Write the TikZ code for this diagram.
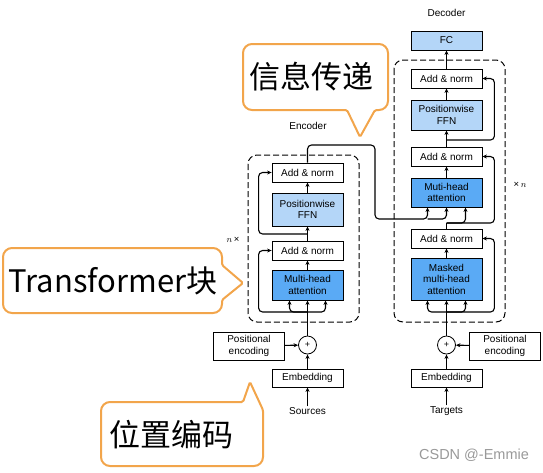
\documentclass[tikz,border=0pt]{standalone}
\usepackage{fontspec}
\setmainfont{Liberation Sans}
\newfontfamily\cjkfont{Noto Sans CJK SC}
\usetikzlibrary{arrows.meta}
\definecolor{dblue}{RGB}{90,170,245}
\definecolor{lblue}{RGB}{180,214,248}
\definecolor{orng}{RGB}{242,165,75}
\begin{document}
\begin{tikzpicture}[x=1pt,y=-1pt,
  txt/.style={font=\fontsize{10}{11.5}\selectfont, inner sep=1pt},
  blk/.style={draw, line width=0.8pt, minimum width=71pt, minimum height=19pt, align=center, inner sep=0pt, font=\fontsize{10}{11.5}\selectfont},
  wblk/.style={blk, fill=white},
  lblk/.style={blk, fill=lblue},
  dblk/.style={blk, fill=dblue},
  arr/.style={line width=1.1pt, -{Stealth[length=4.5pt,width=4pt]}},
  ln/.style={line width=1.1pt},
  dbox/.style={line width=1pt, dash pattern=on 6pt off 3pt, rounded corners=9pt},
  callout/.style={draw=orng, line width=2pt, fill=white},
  ctext/.style={font=\cjkfont\fontsize{31}{33}\selectfont, inner sep=0pt},
  mult/.style={font=\fontsize{9.5}{10}\selectfont, inner sep=0pt}
]
\useasboundingbox (0,0) rectangle (543,472);

% dashed boxes
\draw[dbox] (248,155) rectangle (359,322);
\draw[dbox] (394,60) rectangle (505,322);

% encoder
\node[txt] (enclbl) at (308,126) {Encoder};
\node[wblk] (an2e) at (307.5,172.5) {Add \& norm};
\node[lblk, minimum height=33pt] (ffne) at (307.5,209.5) {Positionwise\\FFN};
\node[wblk] (an1e) at (307.5,250.5) {Add \& norm};
\node[dblk, minimum height=30pt] (mhae) at (307.5,285) {Multi-head\\attention};
\node[draw, circle, line width=0.8pt, minimum size=18pt, inner sep=0pt, font=\fontsize{9}{9}\selectfont] (pluse) at (307.5,345) {+};
\node[wblk, minimum height=28pt] (pose) at (249,346) {Positional\\encoding};
\node[wblk, minimum height=18pt] (embe) at (307.5,378) {Embedding};
\node[txt] (src) at (307.5,411) {Sources};
\node[mult] (nx) at (233,240) {$n$\,×};

% decoder
\node[txt] (declbl) at (446.5,13) {Decoder};
\node[lblk] (fc) at (446.5,40.5) {FC};
\node[wblk] (an3d) at (446.5,78.5) {Add \& norm};
\node[lblk, minimum height=30pt] (ffnd) at (446.5,115) {Positionwise\\FFN};
\node[wblk] (an2d) at (446.5,156.5) {Add \& norm};
\node[dblk, minimum height=29pt] (mhad) at (446.5,192.5) {Muti-head\\attention};
\node[wblk] (an1d) at (446.5,238.5) {Add \& norm};
\node[dblk, minimum height=42pt] (mmhad) at (446.5,279) {Masked\\multi-head\\attention};
\node[draw, circle, line width=0.8pt, minimum size=18pt, inner sep=0pt, font=\fontsize{9}{9}\selectfont] (plusd) at (446.5,345) {+};
\node[wblk, minimum height=28pt] (posd) at (505,346) {Positional\\encoding};
\node[wblk, minimum height=18pt] (embd) at (446.5,378) {Embedding};
\node[txt] (tgt) at (446.5,411) {Targets};
\node[mult] (xn) at (520,185) {×\,$n$};

% encoder connectors
\draw[arr] (src) -- (embe);
\draw[arr] (embe) -- (pluse);
\draw[arr] (pose) -- (pluse);
\coordinate (ebr) at (307.5,312);
\draw[arr] (pluse) -- (mhae);
\draw[arr, rounded corners=4pt] (ebr) -| ([xshift=-18pt]mhae.south);
\draw[arr, rounded corners=4pt] (ebr) -| ([xshift=18pt]mhae.south);
\draw[arr, rounded corners=4pt] (ebr) -| ([xshift=-13pt]an1e.west) -- (an1e.west);
\draw[arr] (mhae) -- (an1e);
\draw[arr] (an1e) -- (ffne);
\coordinate (ebr2) at (307.5,234);
\draw[arr, rounded corners=4pt] (ebr2) -| ([xshift=-13pt]an2e.west) -- (an2e.west);
\draw[arr] (ffne) -- (an2e);
\coordinate (c1) at (375,145);
\coordinate (c2) at (446.5,219);
\draw[arr, rounded corners=4pt] (an2e.north) |- (c1) |- ([xshift=-19pt]c2) -- ([xshift=-19pt]mhad.south);
\draw[arr, rounded corners=4pt] ([xshift=-19pt]c2) -- (c2) -- (mhad.south);

% decoder connectors
\draw[arr] (tgt) -- (embd);
\draw[arr] (embd) -- (plusd);
\draw[arr] (posd) -- (plusd);
\coordinate (dbr) at (446.5,312);
\draw[arr] (plusd) -- (mmhad);
\draw[arr, rounded corners=4pt] (dbr) -| ([xshift=-19pt]mmhad.south);
\draw[arr, rounded corners=4pt] (dbr) -| ([xshift=19pt]mmhad.south);
\draw[arr, rounded corners=4pt] (dbr) -| ([xshift=12pt]an1d.east) -- (an1d.east);
\draw[arr] (mmhad) -- (an1d);
\coordinate (dbr2) at (446.5,223);
\draw[ln] (an1d.north) -- (dbr2);
\draw[arr, rounded corners=4pt] (dbr2) -| ([xshift=19pt]mhad.south);
\draw[arr, rounded corners=4pt] (dbr2) -| ([xshift=12pt]an2d.east) -- (an2d.east);
\draw[arr] (mhad) -- (an2d);
\draw[arr] (an2d) -- (ffnd);
\coordinate (dbr3) at (446.5,140);
\draw[arr, rounded corners=4pt] (dbr3) -| ([xshift=12pt]an3d.east) -- (an3d.east);
\draw[arr] (ffnd) -- (an3d);
\draw[arr] (an3d) -- (fc);

% callouts
\draw[callout] (243,77) [rounded corners=9pt] -- (243,44) -- (388,44) -- (388,110) [rounded corners=1.5pt] -- (375,110) -- (360,137) -- (347,110) [rounded corners=9pt] -- (243,110) -- cycle;
\node[ctext] (c_xx) at (311,77) {信息传递};

\draw[callout] (3,280) [rounded corners=9pt] -- (3,248) -- (222,248) [rounded corners=1.5pt] -- (222,265) -- (243,283) -- (222,300) [rounded corners=9pt] -- (222,313) -- (3,313) -- cycle;
\node[ctext] (c_tf) at (113,281) {Transformer块};

\draw[callout] (101,435) [rounded corners=9pt] -- (101,402) [rounded corners=1.5pt] -- (243,402) -- (250,382) -- (263,410) [rounded corners=9pt] -- (263,466) -- (101,466) -- cycle;
\node[ctext] (c_wz) at (171,435) {位置编码};

% watermark
\node[font=\fontsize{14.5}{15}\selectfont, text=black!40, inner sep=0pt] (wm) at (474,455) {CSDN @-Emmie};
\end{tikzpicture}
\end{document}
